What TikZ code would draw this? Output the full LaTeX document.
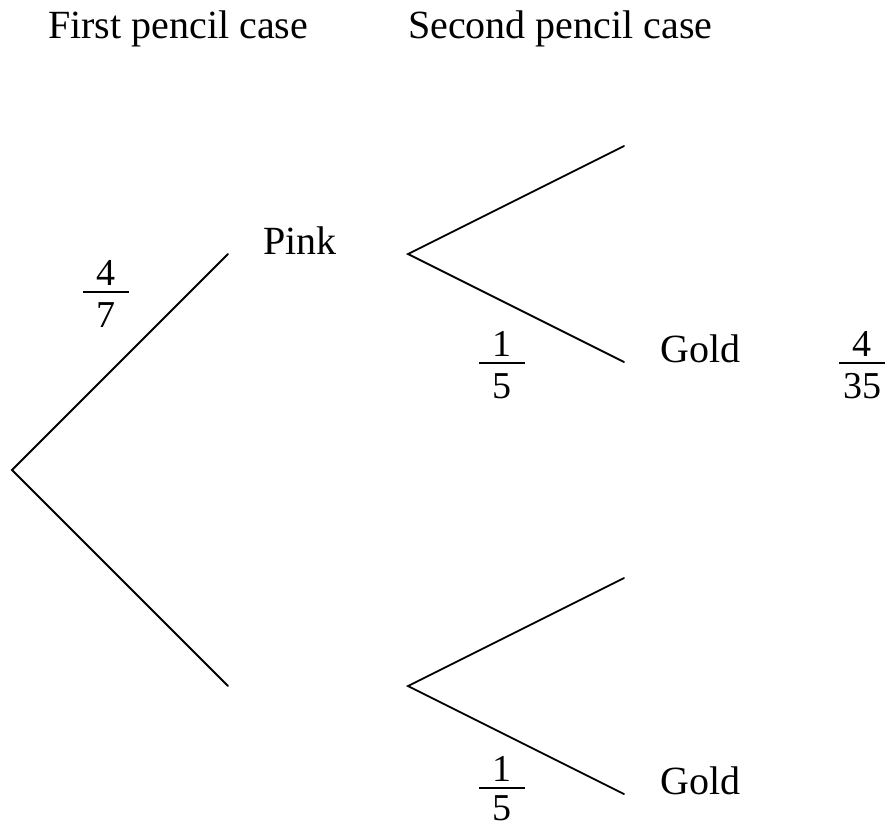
\documentclass[tikz,border=0pt]{standalone}
\usepackage{fontspec}
\setmainfont{Liberation Serif}
\begin{document}
\begin{tikzpicture}[x=1pt,y=-1pt,
  txt/.style={anchor=base west,inner sep=0pt,font=\fontsize{40}{48}\selectfont},
  dig/.style={anchor=base,inner sep=0pt,font=\fontsize{38}{46}\selectfont},
  fbar/.style={fill=black,minimum width=46pt,minimum height=1.7pt,inner sep=0pt,outer sep=0pt},
  branch/.style={line width=1.8pt,line cap=round}]
\useasboundingbox (0,0) rectangle (888,830);
% headings
\node[txt] (h1) at (48,38) {First pencil case};
\node[txt] (h2) at (408,38) {Second pencil case};
% tree points
\coordinate (root) at (12,470);
\coordinate (a) at (228,254);
\coordinate (b) at (228,686);
\coordinate (a0) at (408,254);
\coordinate (b0) at (408,686);
\coordinate (a1) at (624,146);
\coordinate (a2) at (624,362);
\coordinate (b1) at (624,578);
\coordinate (b2) at (624,794);
\draw[branch] (a) -- (root) -- (b);
\draw[branch] (a1) -- (a0) -- (a2);
\draw[branch] (b1) -- (b0) -- (b2);
% labels
\node[txt] (pink) at (263,254) {Pink};
\node[txt] (gold1) at (660,362) {Gold};
\node[txt] (gold2) at (660,794) {Gold};
% fractions
\node[fbar] (f1) at (106,292) {};
\node[dig] (f1n) at (106,285) {4};
\node[dig] (f1d) at (106,327) {7};
\node[fbar] (f2) at (502,363) {};
\node[dig] (f2n) at (502,356) {1};
\node[dig] (f2d) at (502,398) {5};
\node[fbar] (f3) at (862,363) {};
\node[dig] (f3n) at (862,356) {4};
\node[dig] (f3d) at (862,398) {35};
\node[fbar] (f4) at (502,788) {};
\node[dig] (f4n) at (502,781) {1};
\node[dig] (f4d) at (502,820) {5};
\end{tikzpicture}
\end{document}
